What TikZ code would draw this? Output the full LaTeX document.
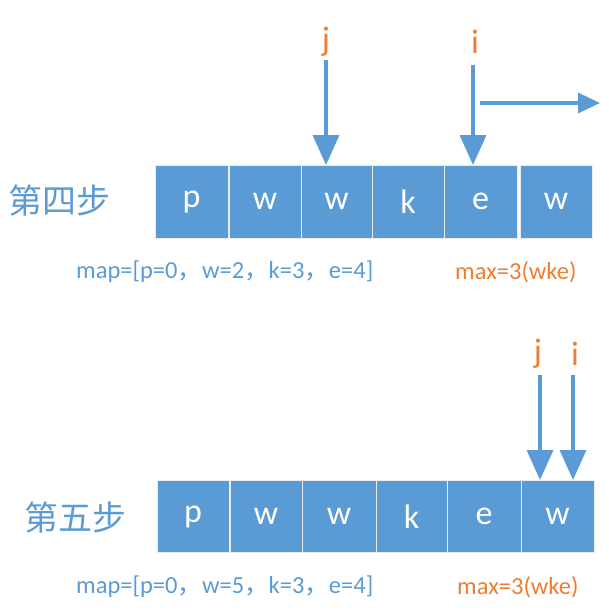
\documentclass[tikz,border=0pt]{standalone}
\usepackage{fontspec}
\setmainfont{Carlito}
\newfontfamily\cjk{Noto Sans CJK SC}
\usetikzlibrary{arrows.meta}
\definecolor{cb}{HTML}{5B9BD5}
\definecolor{co}{HTML}{ED7D31}
\newcommand{\fc}{{\cjk ，}}
\begin{document}
\begin{tikzpicture}[x=1pt,y=-1pt,
 cell/.style={fill=cb,draw=white!85!gray,line width=0.8pt,text=white,font=\fontsize{34}{36}\selectfont,inner sep=0pt},
 ptr/.style={draw=cb,line width=3.5pt,-{Triangle[length=30pt,width=26pt]}},
 lab/.style={text=co,font=\fontsize{34}{36}\selectfont},
 steplab/.style={text=cb,font=\cjk\fontsize{34}{36}\selectfont},
 info/.style={text=cb,font=\fontsize{24.5}{26}\selectfont,anchor=west,inner sep=0pt}]
\useasboundingbox (0,0) rectangle (609,616);
% top row
\foreach \n/\a/\b/\t in {a1/155/228/p,a2/229/301/w,a3/301/372/w,a4/372/444/k,a5/444/517/e,a6/520/592/w}
  \node[cell,minimum width={\b-\a},minimum height=73] (\n) at ({(\a+\b)/2},201.5) {\t};
\node[steplab] (s1) at (60,201) {第四步};
\node[lab] (j1) at (326,42) {j};
\node[lab] (i1) at (475,42) {i};
\coordinate (j1s) at (326,60);
\coordinate (j1e) at (326,165);
\coordinate (i1s) at (473,65);
\coordinate (i1e) at (473,165);
\draw[ptr] (j1s) -- (j1e);
\draw[ptr] (i1s) -- (i1e);
\coordinate (h1) at (480,103);
\coordinate (h2) at (600,103);
\draw[ptr,-{Triangle[length=22pt,width=20pt]}] (h1) -- (h2);
\node[info] (m1) at (76,272) {map=[p=0\fc w=2\fc k=3\fc e=4]};
\node[info,text=co] (x1) at (455,272) {max=3(wke)};
% bottom row
\foreach \n/\a/\b/\t in {b1/157/229/p,b2/230/302/w,b3/302/376/w,b4/376/447/k,b5/447/521/e,b6/521/594/w}
  \node[cell,minimum width={\b-\a},minimum height=72] (\n) at ({(\a+\b)/2},516.5) {\t};
\node[steplab] (s2) at (75,518) {第五步};
\node[lab] (j2) at (538,354) {j};
\node[lab] (i2) at (575,354) {i};
\coordinate (j2s) at (540,375);
\coordinate (i2s) at (573,375);
\coordinate (j2e) at (540,480);
\coordinate (i2e) at (573,480);
\draw[ptr] (j2s) -- (j2e);
\draw[ptr] (i2s) -- (i2e);
\node[info] (m2) at (76,587) {map=[p=0\fc w=5\fc k=3\fc e=4]};
\node[info,text=co] (x2) at (457,587) {max=3(wke)};
\end{tikzpicture}
\end{document}
